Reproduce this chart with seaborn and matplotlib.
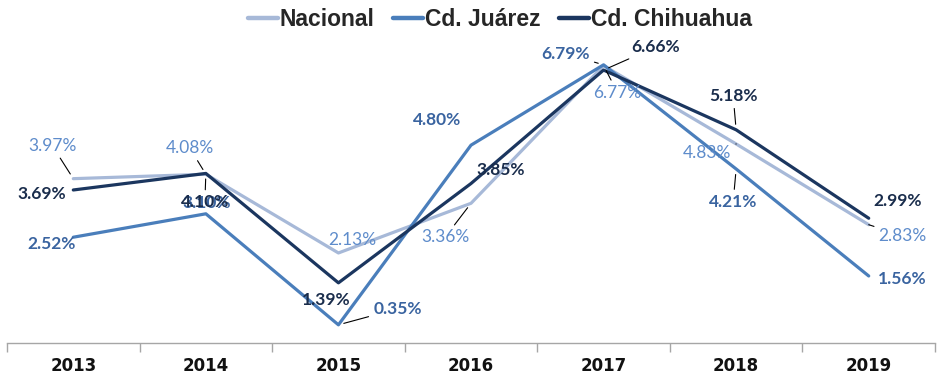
import matplotlib
matplotlib.use("Agg")
import matplotlib.pyplot as plt
import seaborn as sns
import pandas as pd
import numpy as np

# Annual growth rates (%) by year
years = ["2013", "2014", "2015", "2016", "2017", "2018", "2019"]
nacional = [3.97, 4.08, 2.13, 3.36, 6.77, 4.83, 2.83]
juarez = [2.52, 3.10, 0.35, 4.80, 6.79, 4.21, 1.56]
chihuahua = [3.69, 4.10, 1.39, 3.85, 6.66, 5.18, 2.99]
series_names = ["Nacional", "Cd. Juárez", "Cd. Chihuahua"]

sns.set_theme(style="white")
plt.rcParams["font.family"] = ["Liberation Sans", "DejaVu Sans"]

line_colors = {"Nacional": "#A7B9D8", "Cd. Juárez": "#4A7EBB", "Cd. Chihuahua": "#1B365F"}
label_styles = {
    "Nacional": dict(color="#5E8CCB", fontweight="normal"),
    "Cd. Juárez": dict(color="#3A64A0", fontweight="bold"),
    "Cd. Chihuahua": dict(color="#1A2D4C", fontweight="bold"),
}

# Label offsets in pixels from each point (x right, y up), plus whether a leader line is drawn
label_offsets = {
    "Nacional": [(-21, 33, True), (-16, 26, True), (14, 13, False), (-26, -34, True),
                 (14, -27, True), (-29, -9, True), (34, -11, True)],
    "Cd. Juárez": [(-22, -7, False), (1, 11, False), (59, 16, True), (-34, 25, False),
                   (-38, 11, True), (-3, -33, True), (34, -3, False)],
    "Cd. Chihuahua": [(-32, -4, False), (-1, -29, True), (-12, -17, False), (30, 14, False),
                      (52, 23, True), (-3, 34, True), (29, 17, False)],
}

values = {"Nacional": nacional, "Cd. Juárez": juarez, "Cd. Chihuahua": chihuahua}
df = pd.DataFrame({
    "Año": years * 3,
    "Serie": sum([[n] * len(years) for n in series_names], []),
    "Valor": nacional + juarez + chihuahua,
})
df["x"] = df["Año"].map({y: i for i, y in enumerate(years)})

fig = plt.figure(figsize=(9.4, 3.75), dpi=100)
ax = fig.add_axes([7 / 940, 32 / 375, 928 / 940, 323 / 375])

sns.lineplot(data=df, x="x", y="Valor", hue="Serie", hue_order=series_names,
             palette=line_colors, linewidth=2.3, ax=ax, legend=False, sort=False)

ax.set_xlim(-0.5, len(years) - 0.5)
ax.set_ylim(-0.1, 7.9)
ax.set_xlabel("")
ax.set_ylabel("")
ax.set_yticks([])

# Category labels centred, tick marks at category boundaries
ax.set_xticks(range(len(years)))
ax.set_xticklabels(years, fontsize=12, fontweight="bold", color="#111111",
                   family="DejaVu Sans")
ax.tick_params(axis="x", which="major", bottom=False, length=0, pad=10)
ax.set_xticks(np.arange(-0.5, len(years)), minor=True)
ax.tick_params(axis="x", which="minor", bottom=True, length=6.5, width=1,
               color="#A6A6A6", direction="out")

for side in ["top", "left", "right"]:
    ax.spines[side].set_visible(False)
ax.spines["bottom"].set_color("#A6A6A6")
ax.spines["bottom"].set_linewidth(1)

for name in series_names:
    for i, v in enumerate(values[name]):
        dx, dy, leader = label_offsets[name][i]
        kw = dict(xy=(i, v), xytext=(dx, dy), textcoords="offset pixels",
                  ha="center", va="center", fontsize=12.5,
                  family=["Lato", "DejaVu Sans"], **label_styles[name])
        if leader:
            kw["arrowprops"] = dict(arrowstyle="-", color="black", lw=0.8,
                                    shrinkA=1, shrinkB=4)
        ax.annotate(f"{v:.2f}%", **kw)

handles = [plt.Line2D([], [], color=line_colors[n], linewidth=3.2) for n in series_names]
fig.legend(handles, series_names, loc="center", bbox_to_anchor=(0.532, 0.947),
           ncol=3, frameon=False, handlelength=1.3, handletextpad=0.1, columnspacing=0.8,
           borderpad=0, prop=dict(family="Liberation Sans", weight="bold", size=16.5))

fig.savefig("out.png", dpi=100)
